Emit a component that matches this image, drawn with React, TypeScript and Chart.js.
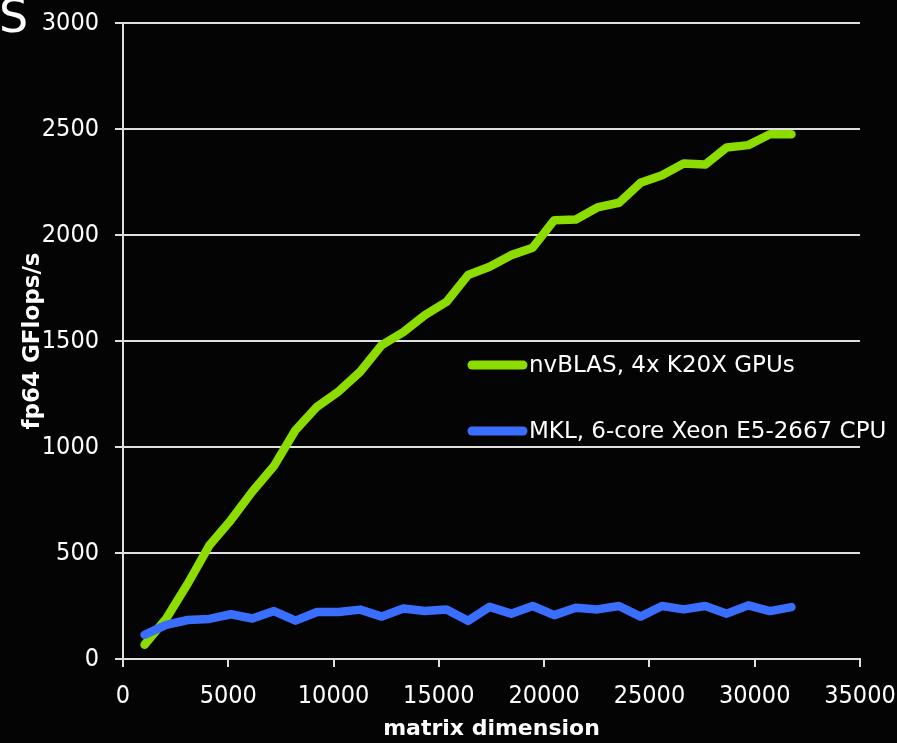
import React, { useEffect, useRef } from "react";
import { Chart, registerables } from "chart.js";

Chart.register(...registerables);

const matrixDimensions = [
  1024, 2048, 3072, 4096, 5120, 6144, 7168, 8192, 9216, 10240, 11264, 12288,
  13312, 14336, 15360, 16384, 17408, 18432, 19456, 20480, 21504, 22528, 23552,
  24576, 25600, 26624, 27648, 28672, 29696, 30720, 31744,
];

const nvblasGflops = [
  67, 190, 355, 535, 655, 790, 910, 1080, 1190, 1262, 1355, 1481, 1542, 1622,
  1684, 1811, 1850, 1905, 1940, 2070, 2073, 2130, 2152, 2246, 2282, 2337, 2332,
  2413, 2424, 2475, 2475,
];

const mklGflops = [
  114, 161, 184, 189, 211, 191, 226, 181, 222, 222, 233, 200, 238, 226, 234,
  180, 246, 214, 250, 207, 242, 234, 250, 200, 250, 234, 250, 214, 253, 226,
  245,
];

const seriesLabels = ["nvBLAS, 4x K20X GPUs", "MKL, 6-core Xeon E5-2667 CPU"];
const seriesColors = ["#8ddc00", "#3a6eff"];
const xTitle = "matrix dimension";
const yTitle = "fp64 GFlops/s";
const titleFragment = "S";

const tickFont = { family: "'DejaVu Sans Condensed', 'DejaVu Sans', sans-serif", size: 25 };
const xTitleFont = { family: "'DejaVu Sans', sans-serif", size: 22, weight: "bold" as const };
const yTitleFont = { family: "'DejaVu Sans', sans-serif", size: 23, weight: "bold" as const };
const legendFont = "23px 'DejaVu Sans', sans-serif";

const insideLegend = {
  id: "insideLegend",
  afterDatasetsDraw(chart: any) {
    const { ctx, chartArea } = chart;
    const x0 = chartArea.left + 348;
    const rowY = [chartArea.top + 342, chartArea.top + 408];
    ctx.save();
    chart.data.datasets.forEach((ds: any, i: number) => {
      const y = rowY[i];
      ctx.strokeStyle = ds.borderColor;
      ctx.lineWidth = 9;
      ctx.lineCap = "round";
      ctx.beginPath();
      ctx.moveTo(x0 + 1, y);
      ctx.lineTo(x0 + 52, y);
      ctx.stroke();
      ctx.fillStyle = "#ffffff";
      ctx.font = legendFont;
      ctx.textBaseline = "middle";
      ctx.textAlign = "left";
      ctx.fillText(ds.label, x0 + 58, y + 1);
    });
    ctx.restore();
  },
};

export default function App() {
  const canvasRef = useRef<HTMLCanvasElement | null>(null);

  useEffect(() => {
    document.body.style.margin = "0";
    document.body.style.background = "#040404";
    const canvas = canvasRef.current;
    if (!canvas) return;
    const chart = new Chart(canvas, {
      type: "line",
      data: {
        datasets: [
          {
            label: seriesLabels[0],
            data: matrixDimensions.map((x, i) => ({ x, y: nvblasGflops[i] })),
            borderColor: seriesColors[0],
            backgroundColor: seriesColors[0],
            borderWidth: 8.5,
            pointRadius: 0,
            tension: 0,
            borderCapStyle: "round",
            borderJoinStyle: "round",
            order: 2,
          },
          {
            label: seriesLabels[1],
            data: matrixDimensions.map((x, i) => ({ x, y: mklGflops[i] })),
            borderColor: seriesColors[1],
            backgroundColor: seriesColors[1],
            borderWidth: 8.5,
            pointRadius: 0,
            tension: 0,
            borderCapStyle: "round",
            borderJoinStyle: "round",
            order: 1,
          },
        ],
      },
      options: {
        animation: false,
        responsive: false,
        layout: { padding: { top: 23, right: 37, left: 0, bottom: 0 } },
        plugins: {
          legend: { display: false },
          tooltip: { enabled: false },
        },
        scales: {
          x: {
            type: "linear",
            min: 0,
            max: 35000,
            ticks: {
              stepSize: 5000,
              color: "#ffffff",
              font: tickFont,
              padding: 14,
              maxRotation: 0,
              autoSkip: false,
              callback: (v: any) => String(v),
            },
            grid: {
              display: true,
              drawOnChartArea: false,
              drawTicks: true,
              tickLength: 8,
              color: "#e0e0e0",
              lineWidth: 2,
            },
            border: { display: true, color: "#e0e0e0", width: 2 },
            title: {
              display: true,
              text: xTitle,
              color: "#ffffff",
              font: xTitleFont,
              padding: { top: 0, bottom: 1 },
            },
            afterFit: (s: any) => {
              s.height = 84;
              s.paddingLeft = 0;
              s.paddingRight = 0;
            },
          },
          y: {
            min: 0,
            max: 3000,
            ticks: {
              stepSize: 500,
              color: "#ffffff",
              font: tickFont,
              padding: 16,
              callback: (v: any) => String(v),
            },
            grid: {
              color: "#e0e0e0",
              lineWidth: 2,
              tickLength: 8,
            },
            border: { display: true, color: "#e0e0e0", width: 2 },
            title: {
              display: true,
              text: yTitle,
              color: "#ffffff",
              font: yTitleFont,
              padding: { top: 19, bottom: 0 },
            },
            afterFit: (s: any) => {
              s.width = 123;
              s.paddingTop = 0;
              s.paddingBottom = 0;
            },
          },
        },
      },
      plugins: [insideLegend],
    } as any);
    return () => chart.destroy();
  }, []);

  return (
    <div
      style={{
        position: "fixed",
        left: 0,
        top: 0,
        width: 897,
        height: 743,
        overflow: "hidden",
        background: "#040404",
      }}
    >
      <canvas ref={canvasRef} width={897} height={743} style={{ display: "block" }} />
      <div
        style={{
          position: "absolute",
          left: -1,
          top: -7,
          fontFamily: "'DejaVu Sans', sans-serif",
          fontSize: 46,
          lineHeight: 1,
          color: "#ffffff",
        }}
      >
        {titleFragment}
      </div>
    </div>
  );
}
